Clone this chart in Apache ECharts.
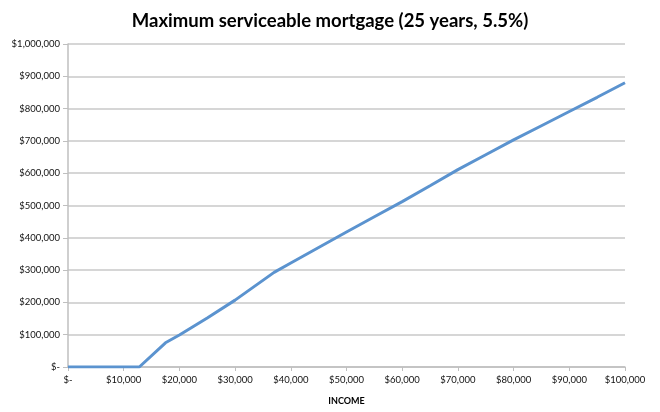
<!DOCTYPE html>
<html>
<head>
<meta charset="utf-8">
<script src="https://cdn.jsdelivr.net/npm/echarts@6/dist/echarts.min.js"></script>
<style>html,body{margin:0;padding:0;background:#fff}#c{width:660px;height:412px}</style>
</head>
<body>
<div id="c"></div>
<script>
const titleText = "Maximum serviceable mortgage (25 years, 5.5%)";
const xAxisName = "INCOME";
const income = [0, 12800, 17500, 20000, 25000, 30000, 37000, 40000, 45000, 50000, 55000, 60000, 65000, 70000, 75000, 80000, 85000, 90000, 95000, 100000];
const mortgage = [0, 0, 75000, 99000, 152000, 207000, 293000, 322000, 370000, 418000, 465000, 512000, 561000, 611000, 657000, 703000, 747000, 791000, 835000, 880000];

function money(v) {
  if (v === 0) return "$-";
  return "$" + String(Math.round(v)).replace(/\B(?=(\d{3})+(?!\d))/g, ",");
}

const data = income.map((x, i) => [x, mortgage[i]]);
const chart = echarts.init(document.getElementById('c'), null, {renderer: 'canvas'});
const font = "Lato, 'Open Sans', sans-serif";
chart.setOption({
  animation: false,
  backgroundColor: '#ffffff',
  title: {
    text: titleText, left: 'center', top: 7,
    textStyle: {fontFamily: font, fontSize: 18.5, fontWeight: 'bold', color: '#000'}
  },
  grid: {left: 68, right: 35, top: 44, bottom: 45, containLabel: false},
  xAxis: {
    type: 'value', min: 0, max: 100000, interval: 10000,
    name: xAxisName, nameLocation: 'middle', nameGap: 30,
    nameTextStyle: {fontFamily: font, fontSize: 9, fontWeight: 'bold', color: '#000'},
    axisLine: {show: true, lineStyle: {color: '#bfbfbf', width: 1.5}},
    axisTick: {show: true, length: 4, lineStyle: {color: '#bfbfbf'}},
    axisLabel: {formatter: money, fontFamily: font, fontSize: 9.5, color: '#111', margin: 8},
    splitLine: {show: false}
  },
  yAxis: {
    type: 'value', min: 0, max: 1000000, interval: 100000,
    axisLine: {show: true, lineStyle: {color: '#bfbfbf', width: 1.5}},
    axisTick: {show: true, length: 5, lineStyle: {color: '#bfbfbf'}},
    axisLabel: {formatter: money, fontFamily: font, fontSize: 9.5, color: '#111', margin: 8},
    splitLine: {show: true, lineStyle: {color: '#c8c8c8', width: 1.5}}
  },
  series: [{
    type: 'line', data: data, showSymbol: false, smooth: false,
    lineStyle: {color: '#5b93cf', width: 3}
  }]
});
</script>
</body>
</html>
